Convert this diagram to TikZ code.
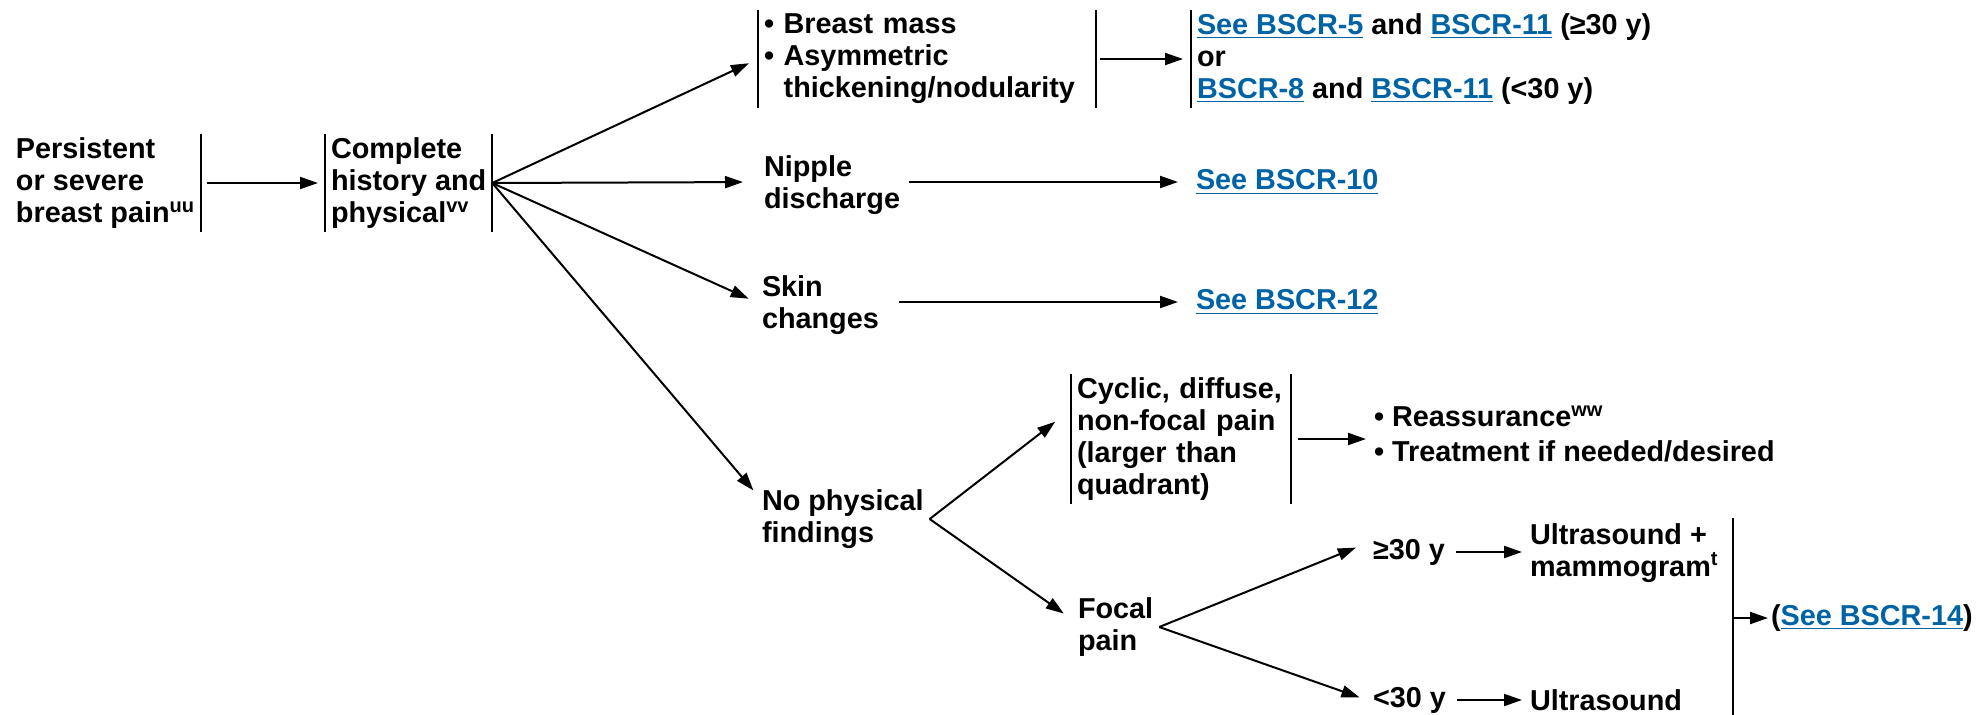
\documentclass[tikz,border=0pt]{standalone}
\usepackage{fontspec}
\setmainfont{Liberation Sans}
\usetikzlibrary{arrows.meta}
\definecolor{linkblue}{RGB}{0,99,166}
\newcommand{\lnk}[1]{\textcolor{linkblue}{\underline{#1}}}
\tikzset{every path/.style={line width=1pt},
  box/.style={anchor=west, align=left, inner xsep=2.5pt, inner ysep=1.5pt, font=\fontsize{14.4}{16}\selectfont\bfseries},
  arr/.style={-{Triangle[length=9pt,width=6pt]}},
  bar/.style={line width=1.1pt}}

\begin{document}
\begin{tikzpicture}[x=0.5pt,y=-0.5pt]
  \useasboundingbox (0,0) rectangle (1980,714);
  \node[box] (pain) at (10,183) {Persistent\\or severe\\breast pain\textsuperscript{uu}};
  \node[box] (hp) at (325,183) {Complete\\history and\\physical\textsuperscript{vv}};
  \node[box,text width=163pt] (bm) at (758,59) {\textbullet\ Breast mass\\\textbullet\ Asymmetric\\\phantom{\textbullet\ }thickening/nodularity};
  \node[box] (see5) at (1191,59) {\lnk{See BSCR-5} and \lnk{BSCR-11} (≥30 y)\\or\\\lnk{BSCR-8} and \lnk{BSCR-11} (<30 y)};
  \node[box] (nip) at (758,185) {Nipple\\discharge};
  \node[box] (see10) at (1190,182) {\lnk{See BSCR-10}};
  \node[box] (skin) at (756,305) {Skin\\changes};
  \node[box] (see12) at (1190,302) {\lnk{See BSCR-12}};
  \node[box] (npf) at (756,519) {No physical\\findings};
  \node[box,text width=104pt] (cyc) at (1071,439) {Cyclic, diffuse,\\non-focal pain\\(larger than\\quadrant)};
  \node[box,font=\fontsize{14.4}{17.5}\selectfont\bfseries] (reas) at (1368,434) {\textbullet\ Reassurance\textsuperscript{ww}\\\textbullet\ Treatment if needed/desired};
  \node[box] (focal) at (1072,627) {Focal\\pain};
  \node[box] (ge30) at (1367,552) {≥30 y};
  \node[box] (lt30) at (1367,700) {<30 y};
  \node[box] (us1) at (1524,553) {Ultrasound +\\mammogram\textsuperscript{t}};
  \node[box] (us2) at (1524,700) {Ultrasound};
  \node[box,inner xsep=1pt] (see14) at (1768,618) {(\lnk{See BSCR-14})};
  \coordinate (ustop) at (1733,518);
  \coordinate (usbot) at (1733,720);

  \draw[bar] (pain.north east) -- (pain.south east);
  \draw[bar] (hp.north west) -- (hp.south west) (hp.north east) -- (hp.south east);
  \draw[bar] (bm.north west) -- (bm.south west) (bm.north east) -- (bm.south east);
  \draw[bar] (see5.north west) -- (see5.south west);
  \draw[bar] (cyc.north west) -- (cyc.south west) (cyc.north east) -- (cyc.south east);
  \draw[bar] (ustop) -- (usbot);

  \draw[arr,shorten <=3pt,shorten >=3.5pt] (pain) -- (hp);
  \draw[arr,shorten >=5pt] (hp.east) -- (bm.west);
  \draw[arr,shorten >=7.5pt] (hp.east) -- ([yshift=1.5pt]nip.west);
  \draw[arr,shorten >=4pt] (hp.east) -- ([yshift=1.5pt]skin.west);
  \draw[arr,shorten >=2pt] (hp.east) -- ([yshift=-4pt]npf.north west);
  \draw[arr,shorten <=2pt,shorten >=4pt] (bm.east) -- (see5.west);
  \draw[arr,shorten <=1.5pt,shorten >=6pt] (see10.west -| nip.east) -- (see10.west);
  \draw[arr,shorten <=7pt,shorten >=6pt] (see12.west -| skin.east) -- (see12.west);
  \draw[arr,shorten >=10pt] (npf.east) -- (cyc.165);
  \draw[arr,shorten >=5pt] (npf.east) -- (focal.170);
  \draw[arr,shorten <=3.5pt,shorten >=1pt] (cyc.east) -- (cyc.east -| reas.west);
  \draw[arr,shorten >=6pt] (focal.east) -- (ge30.168);
  \draw[arr,shorten >=4pt] (focal.east) -- (lt30.west);
  \draw[arr,shorten <=2.5pt,shorten >=1pt] (ge30.east) -- (ge30.east -| us1.west);
  \draw[arr,shorten <=2.5pt,shorten >=1pt] (lt30.east) -- (us2.west);
  \draw[arr] (ustop |- see14.west) -- (see14.west);
\end{tikzpicture}
\end{document}
